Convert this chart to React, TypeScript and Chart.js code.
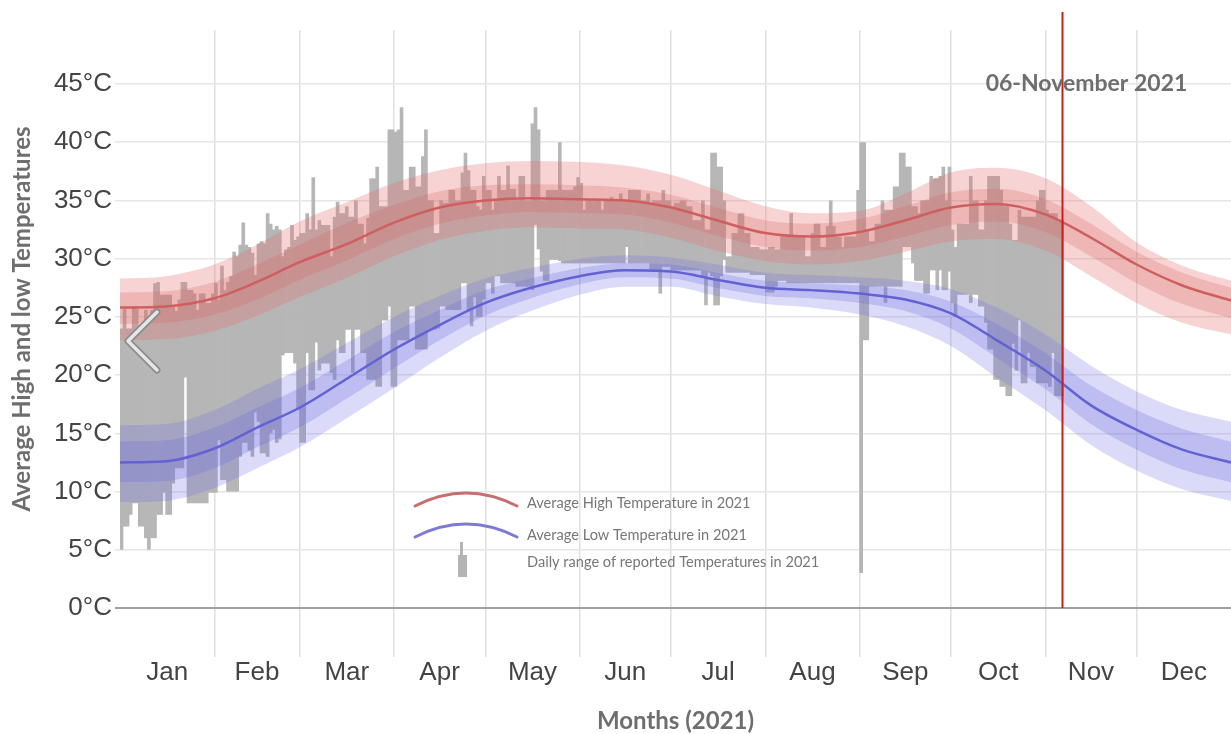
import React, { useEffect, useRef } from "react";
import { Chart, registerables } from "chart.js";

Chart.register(...registerables);

// ---------- axis definitions ----------
const MONTHS = ["Jan", "Feb", "Mar", "Apr", "May", "Jun", "Jul", "Aug", "Sep", "Oct", "Nov", "Dec"];
const MONTH_STARTS = [0, 31, 59, 90, 120, 151, 181, 212, 243, 273, 304, 334, 365];
const Y_TICKS = [0, 5, 10, 15, 20, 25, 30, 35, 40, 45];
const Y_MAX = 49.64;
const TODAY_DAY = 309.5;
const TODAY_LABEL = "06-November 2021";

// ---------- climatology bands (sample days, °C) ----------
const bandDays = [0, 15, 31, 45, 59, 74, 90, 105, 120, 135, 151, 166, 181, 196, 212, 227, 243, 258, 273, 288, 304, 319, 334, 349, 365];
const highP90 = [28.3, 28.5, 29.5, 31.2, 33.2, 34.8, 36.5, 37.6, 38.2, 38.4, 38.3, 38.0, 37.2, 35.9, 34.5, 33.9, 34.1, 35.6, 37.4, 37.8, 36.9, 34.5, 31.4, 29.4, 28.1];
const highP75 = [27.1, 27.2, 28.0, 29.5, 31.2, 33.0, 34.6, 35.8, 36.3, 36.4, 36.3, 36.1, 35.5, 34.4, 33.3, 33.0, 33.4, 34.5, 35.7, 36.0, 35.1, 33.0, 30.6, 28.8, 27.5];
const avgHigh = [25.8, 25.9, 26.6, 28.0, 29.7, 31.2, 33.1, 34.4, 35.0, 35.2, 35.1, 35.0, 34.4, 33.3, 32.2, 31.9, 32.3, 33.3, 34.4, 34.7, 33.8, 31.8, 29.5, 27.7, 26.4];
const highP25 = [24.4, 24.5, 25.2, 26.5, 28.2, 29.8, 31.7, 33.0, 33.7, 34.0, 33.9, 33.8, 33.1, 32.0, 31.0, 30.7, 31.0, 31.9, 32.9, 33.2, 32.3, 30.2, 27.9, 26.1, 24.9];
const highP10 = [23.0, 23.1, 23.8, 25.1, 26.7, 28.3, 30.2, 31.6, 32.4, 32.7, 32.6, 32.5, 31.8, 30.7, 29.8, 29.5, 29.8, 30.6, 31.5, 31.7, 30.7, 28.5, 26.2, 24.5, 23.5];

const lowP90 = [15.7, 15.8, 17.0, 18.8, 20.5, 22.7, 25.0, 26.8, 28.3, 29.2, 30.0, 30.3, 30.1, 29.5, 28.8, 28.6, 28.4, 28.1, 27.4, 25.8, 23.5, 20.8, 18.6, 17.0, 16.0];
const lowP75 = [14.3, 14.4, 15.5, 17.2, 18.9, 21.2, 23.7, 25.6, 27.3, 28.3, 29.2, 29.6, 29.5, 28.8, 28.1, 27.9, 27.7, 27.3, 26.3, 24.4, 21.9, 19.1, 17.0, 15.4, 14.3];
const avgLow = [12.5, 12.6, 13.7, 15.5, 17.2, 19.6, 22.2, 24.3, 26.2, 27.5, 28.5, 29.0, 28.9, 28.2, 27.5, 27.3, 27.0, 26.5, 25.3, 23.0, 20.4, 17.4, 15.3, 13.6, 12.5];
const lowP25 = [10.8, 10.9, 12.0, 13.8, 15.5, 17.9, 20.6, 23.0, 25.1, 26.6, 27.8, 28.4, 28.3, 27.5, 26.8, 26.6, 26.2, 25.5, 24.0, 21.5, 18.8, 15.8, 13.6, 11.9, 10.8];
const lowP10 = [9.1, 9.2, 10.3, 12.0, 13.8, 16.2, 18.9, 21.5, 23.8, 25.5, 26.9, 27.6, 27.6, 26.8, 26.1, 25.8, 25.2, 24.2, 22.5, 19.8, 17.0, 14.0, 11.8, 10.2, 9.2];

// ---------- daily reported range, 1 Jan (day 0) .. 6 Nov (day 309) ----------
const dailyHigh = [
  // Jan
  24.0, 25.7, 24.0, 24.0, 25.9, 25.9, 24.0, 24.5, 25.6, 25.0, 25.6, 27.9, 28.0, 26.9, 26.9, 26.9, 26.9, 26.0, 25.5, 26.5, 28.0, 28.0, 27.3, 27.3, 27.0, 25.6, 27.0, 27.0, 26.2, 26.2, 27.0,
  // Feb
  27.9, 26.5, 29.4, 27.3, 28.0, 28.5, 30.6, 30.2, 31.2, 33.1, 31.2, 31.0, 30.5, 28.6, 31.3, 31.5, 31.3, 33.9, 33.0, 32.5, 32.8, 32.5, 30.2, 30.8, 31.0, 32.9, 31.6, 31.9,
  // Mar
  32.2, 32.2, 33.9, 32.5, 37.0, 32.5, 33.3, 32.9, 32.9, 32.9, 30.2, 33.6, 34.9, 33.9, 33.9, 34.5, 33.6, 33.6, 35.0, 33.0, 33.0, 31.3, 33.5, 36.9, 36.9, 37.9, 34.5, 34.5, 34.5, 41.1, 41.1,
  // Apr
  40.9, 41.1, 43.0, 35.9, 35.9, 37.9, 37.9, 36.2, 36.2, 38.8, 41.1, 35.0, 35.0, 32.2, 32.2, 35.0, 34.8, 34.8, 35.9, 35.9, 35.0, 35.0, 37.4, 39.1, 37.6, 35.9, 35.9, 34.5, 34.2, 37.1,
  // May
  35.9, 35.9, 34.2, 35.0, 37.1, 35.9, 35.9, 38.0, 36.0, 36.0, 35.0, 37.1, 37.1, 35.0, 35.0, 41.6, 43.0, 41.1, 35.0, 35.0, 35.9, 35.9, 35.9, 35.9, 40.0, 35.9, 35.9, 35.9, 35.9, 36.2, 37.0,
  // Jun
  36.5, 34.2, 35.0, 35.0, 35.0, 35.0, 35.0, 34.2, 35.0, 35.0, 35.3, 35.0, 35.0, 35.6, 35.0, 35.0, 35.9, 35.9, 35.9, 35.9, 35.0, 35.0, 35.6, 34.8, 35.0, 35.0, 35.0, 35.9, 35.0, 35.0,
  // Jul
  34.5, 34.8, 34.8, 35.0, 35.0, 34.5, 34.5, 33.3, 33.3, 33.3, 35.0, 32.5, 32.5, 39.1, 39.1, 37.9, 37.9, 35.0, 30.2, 30.2, 32.2, 32.2, 33.9, 33.9, 32.2, 32.2, 31.0, 31.0, 31.0, 30.8, 30.8,
  // Aug
  30.8, 31.0, 31.0, 30.8, 30.8, 31.9, 31.9, 31.9, 33.9, 31.9, 31.9, 31.9, 31.9, 30.2, 30.2, 32.2, 33.0, 33.0, 31.0, 31.0, 32.8, 35.0, 32.8, 31.9, 31.9, 31.0, 31.9, 31.9, 31.9, 31.9, 35.9,
  // Sep
  40.0, 40.0, 32.5, 31.5, 31.5, 33.0, 33.0, 35.0, 34.2, 34.2, 34.2, 36.2, 36.2, 39.1, 39.1, 37.9, 37.9, 34.5, 34.5, 33.9, 35.0, 35.0, 35.0, 37.1, 36.9, 36.9, 37.1, 37.9, 35.0, 37.9,
  // Oct
  32.5, 31.0, 33.0, 33.0, 33.0, 33.0, 37.1, 35.0, 35.0, 32.5, 32.5, 35.0, 37.1, 37.1, 37.1, 37.1, 35.9, 34.5, 34.5, 33.0, 31.6, 31.6, 34.2, 33.6, 33.6, 33.6, 33.6, 33.6, 35.0, 35.9, 35.9,
  // Nov
  34.2, 33.9, 33.9, 33.9, 33.3, 33.3,
];

const dailyLow = [
  // Jan
  5.0, 7.0, 7.0, 8.0, 9.0, 9.0, 7.0, 7.0, 6.0, 5.0, 6.0, 6.0, 8.0, 8.0, 9.9, 8.0, 8.0, 10.7, 12.0, 12.0, 12.0, 19.8, 9.0, 9.0, 9.0, 9.0, 9.0, 9.0, 9.0, 9.9, 9.9,
  // Feb
  9.9, 14.4, 11.0, 11.0, 10.0, 10.0, 10.0, 10.0, 13.0, 14.2, 14.2, 13.5, 13.0, 16.8, 16.0, 13.3, 13.3, 13.0, 15.0, 15.3, 14.2, 14.5, 21.7, 21.9, 21.9, 21.9, 21.0, 17.0,
  // Mar
  14.2, 14.2, 21.9, 18.7, 18.7, 22.8, 20.4, 21.0, 21.0, 21.0, 20.2, 19.6, 23.0, 21.9, 21.9, 23.9, 23.9, 20.2, 23.9, 23.9, 21.9, 21.9, 19.6, 19.6, 19.6, 19.0, 19.0, 24.7, 24.7, 25.9, 19.0,
  // Apr
  19.0, 23.0, 23.0, 23.0, 23.0, 25.9, 25.9, 22.2, 22.2, 22.2, 22.2, 23.9, 23.9, 23.9, 24.0, 25.9, 25.9, 25.6, 25.6, 25.6, 25.6, 25.6, 27.9, 27.9, 25.6, 24.2, 26.7, 25.0, 25.0, 26.5,
  // May
  27.9, 27.9, 27.0, 28.5, 28.5, 27.9, 27.9, 27.9, 27.9, 27.9, 27.6, 27.6, 27.6, 27.6, 27.6, 27.3, 32.9, 30.8, 28.9, 28.1, 28.1, 29.9, 29.9, 29.9, 29.8, 29.6, 29.6, 29.6, 29.6, 29.6, 29.6,
  // Jun
  29.6, 29.6, 29.6, 29.6, 29.6, 29.6, 29.6, 29.6, 29.6, 29.6, 29.6, 29.6, 29.6, 29.6, 29.6, 31.0, 29.6, 29.6, 29.6, 29.6, 29.6, 29.6, 29.6, 29.0, 29.0, 29.0, 27.0, 29.3, 29.3, 29.3,
  // Jul
  29.0, 29.0, 29.0, 29.0, 29.0, 29.0, 29.0, 29.0, 29.0, 29.0, 28.5, 26.0, 28.8, 28.5, 26.0, 26.0, 28.5, 29.9, 28.8, 28.8, 28.8, 28.8, 28.8, 28.8, 28.8, 28.8, 28.6, 28.6, 28.6, 28.6, 28.6,
  // Aug
  27.1, 27.1, 27.1, 27.6, 28.1, 28.1, 28.1, 27.9, 27.9, 27.9, 27.9, 27.9, 27.9, 27.9, 27.9, 27.9, 27.9, 27.9, 27.9, 27.9, 27.9, 27.9, 27.9, 27.9, 27.9, 27.9, 27.9, 27.9, 27.9, 27.9, 27.9,
  // Sep
  3.0, 23.0, 23.0, 27.6, 27.6, 27.6, 27.6, 27.6, 26.2, 27.6, 27.6, 27.6, 27.6, 27.6, 31.0, 31.0, 31.0, 29.6, 28.1, 28.1, 28.1, 27.0, 27.0, 29.0, 29.0, 27.3, 29.0, 27.3, 27.3, 28.9,
  // Oct
  26.2, 25.0, 26.9, 26.9, 26.9, 26.9, 26.2, 26.9, 26.9, 25.9, 25.9, 24.5, 22.2, 22.2, 19.6, 19.6, 19.0, 19.0, 18.2, 18.2, 22.7, 20.4, 24.7, 19.3, 19.3, 21.9, 20.7, 20.7, 19.3, 19.3, 19.3,
  // Nov
  19.3, 19.0, 21.9, 18.2, 18.2, 18.2,
];

const LEGEND_ITEMS = [
  "Average High Temperature in 2021",
  "Average Low Temperature in 2021",
  "Daily range of reported Temperatures in 2021",
];
const X_TITLE = "Months (2021)";
const Y_TITLE = "Average High and low Temperatures";

// ---------- helpers ----------
const pts = (vals: number[]) => bandDays.map((d, i) => ({ x: d, y: vals[i] }));
const monthMids = MONTH_STARTS.slice(0, 12).map((s, i) => (s + MONTH_STARTS[i + 1]) / 2);

const TITLE_FONT = "Lato";
const TICK_FONT = "'Liberation Sans', Arial, sans-serif";

const annotationPlugin = {
  id: "annotations",
  afterDatasetsDraw(chart: any) {
    const { ctx, scales } = chart;
    const xs = scales.x;
    const ys = scales.y;
    ctx.save();

    // today marker
    const tx = Math.round(xs.getPixelForValue(TODAY_DAY)) + 0.5;
    ctx.strokeStyle = "#c81e1e";
    ctx.lineWidth = 2;
    ctx.beginPath();
    ctx.moveTo(tx, 12);
    ctx.lineTo(tx, ys.getPixelForValue(0));
    ctx.stroke();

    ctx.fillStyle = "#6e6e6e";
    ctx.font = `bold 23px ${TITLE_FONT}`;
    ctx.textAlign = "center";
    ctx.textBaseline = "middle";
    ctx.fillText(TODAY_LABEL, tx + 24, ys.getPixelForValue(45));

    // carousel chevron
    ctx.lineCap = "round";
    ctx.lineJoin = "round";
    ctx.beginPath();
    ctx.moveTo(157, 312);
    ctx.lineTo(128, 341);
    ctx.lineTo(157, 370);
    ctx.strokeStyle = "#8c8c8c";
    ctx.lineWidth = 7;
    ctx.stroke();
    ctx.strokeStyle = "#e6e6e6";
    ctx.lineWidth = 3.5;
    ctx.stroke();

    // legend
    const lx = 415;
    ctx.lineCap = "round";
    ctx.lineWidth = 3;
    ctx.strokeStyle = "#c86e6e";
    ctx.beginPath();
    ctx.moveTo(lx, 506);
    ctx.quadraticCurveTo(lx + 51, 480, lx + 102, 506);
    ctx.stroke();
    ctx.strokeStyle = "#7b7bd6";
    ctx.beginPath();
    ctx.moveTo(lx, 537);
    ctx.quadraticCurveTo(lx + 51, 511, lx + 102, 537);
    ctx.stroke();
    ctx.fillStyle = "#b4b4b4";
    ctx.fillRect(460, 542, 3, 13);
    ctx.fillRect(458, 555, 9, 22);

    ctx.fillStyle = "#777777";
    ctx.font = `14.6px ${TITLE_FONT}`;
    ctx.textAlign = "left";
    ctx.textBaseline = "middle";
    ctx.fillText(LEGEND_ITEMS[0], 527, 503);
    ctx.fillText(LEGEND_ITEMS[1], 527, 535);
    ctx.fillText(LEGEND_ITEMS[2], 527, 562);
    ctx.restore();
  },
};

export default function App() {
  const ref = useRef<HTMLCanvasElement | null>(null);

  useEffect(() => {
    document.body.style.margin = "0";
    const n = Math.min(dailyHigh.length, dailyLow.length);
    const bars = [];
    for (let i = 0; i < n; i++) bars.push({ x: i + 0.5, y: [dailyLow[i], dailyHigh[i]] });

    const band = (vals: number[], color: string, fill: any, order: number) => ({
      type: "line" as const,
      data: pts(vals),
      borderWidth: 0,
      borderColor: "rgba(0,0,0,0)",
      backgroundColor: color,
      pointRadius: 0,
      cubicInterpolationMode: "monotone" as const,
      fill,
      order,
    });

    const chart = new Chart(ref.current as HTMLCanvasElement, {
      type: "bar",
      data: {
        datasets: [
          {
            type: "line",
            data: pts(avgHigh),
            borderColor: "#cf5f5f",
            borderWidth: 2.5,
            pointRadius: 0,
            cubicInterpolationMode: "monotone",
            fill: false,
            order: 0,
          } as any,
          {
            type: "line",
            data: pts(avgLow),
            borderColor: "#6262d4",
            borderWidth: 2.5,
            pointRadius: 0,
            cubicInterpolationMode: "monotone",
            fill: false,
            order: 0,
          } as any,
          {
            type: "bar",
            data: bars,
            backgroundColor: "#b6b6b6",
            borderWidth: 0,
            barPercentage: 1.2,
            categoryPercentage: 1,
            grouped: false,
            order: 5,
          } as any,
          band(highP10, "rgba(0,0,0,0)", false, 4),
          band(highP90, "rgba(230,110,110,0.3)", 3, 4),
          band(highP25, "rgba(0,0,0,0)", false, 3),
          band(highP75, "rgba(215,95,95,0.25)", 5, 3),
          band(lowP10, "rgba(0,0,0,0)", false, 4),
          band(lowP90, "rgba(110,110,230,0.25)", 7, 4),
          band(lowP25, "rgba(0,0,0,0)", false, 3),
          band(lowP75, "rgba(100,100,220,0.25)", 9, 3),
        ] as any,
      },
      options: {
        responsive: false,
        animation: false,
        devicePixelRatio: 1,
        layout: { padding: { top: 30, right: 0, left: 0, bottom: 0 } },
        plugins: { legend: { display: false }, tooltip: { enabled: false } },
        events: [],
        scales: {
          x: {
            type: "linear",
            min: 0,
            max: 365,
            offset: false,
            position: "bottom",
            weight: 0,
            afterBuildTicks: (s: any) => {
              s.ticks = MONTH_STARTS.slice(1, 12).map((v) => ({ value: v }));
            },
            afterFit: (s: any) => {
              s.height = 49;
            },
            ticks: { display: false },
            grid: { color: "#e0e0e0", lineWidth: 1.5, drawTicks: true, tickLength: 49, offset: false },
            border: { display: false },
          },
          x2: {
            type: "linear",
            min: 0,
            max: 365,
            offset: false,
            position: "bottom",
            weight: 1,
            afterBuildTicks: (s: any) => {
              s.ticks = monthMids.map((v) => ({ value: v }));
            },
            afterFit: (s: any) => {
              s.height = 77;
            },
            ticks: {
              autoSkip: false,
              maxRotation: 0,
              padding: 0,
              color: "#444444",
              font: { family: TICK_FONT, size: 26 },
              callback: (v: any) => MONTHS[monthMids.indexOf(Number(v))] ?? "",
            },
            grid: { display: false, drawTicks: false, offset: false },
            border: { display: false },
            title: {
              display: true,
              text: X_TITLE,
              color: "#6e6e6e",
              font: { family: TITLE_FONT, size: 24, weight: "bold", lineHeight: 1 },
              padding: { top: 0, bottom: 1 },
            },
          },
          y: {
            type: "linear",
            min: 0,
            max: Y_MAX,
            afterBuildTicks: (s: any) => {
              s.ticks = Y_TICKS.map((v) => ({ value: v }));
            },
            afterFit: (s: any) => {
              s.width = 120;
            },
            ticks: {
              padding: 3,
              color: "#444444",
              font: { family: TICK_FONT, size: 26 },
              callback: (v: any) => `${v}°C`,
            },
            grid: {
              color: (c: any) => (c.tick && c.tick.value === 0 ? "#a0a0a0" : "#e6e6e6"),
              lineWidth: (c: any) => (c.tick && c.tick.value === 0 ? 2 : 1.5),
              tickLength: 5,
            },
            border: { display: false },
            title: {
              display: true,
              text: Y_TITLE,
              color: "#6e6e6e",
              font: { family: TITLE_FONT, size: 24, weight: "bold", lineHeight: 1 },
              padding: { top: 10, bottom: 0 },
            },
          },
        },
      } as any,
      plugins: [annotationPlugin],
    });
    return () => chart.destroy();
  }, []);

  return (
    <div style={{ width: 1231, height: 734 }}>
      <canvas ref={ref} width={1231} height={734} style={{ display: "block" }} />
    </div>
  );
}
